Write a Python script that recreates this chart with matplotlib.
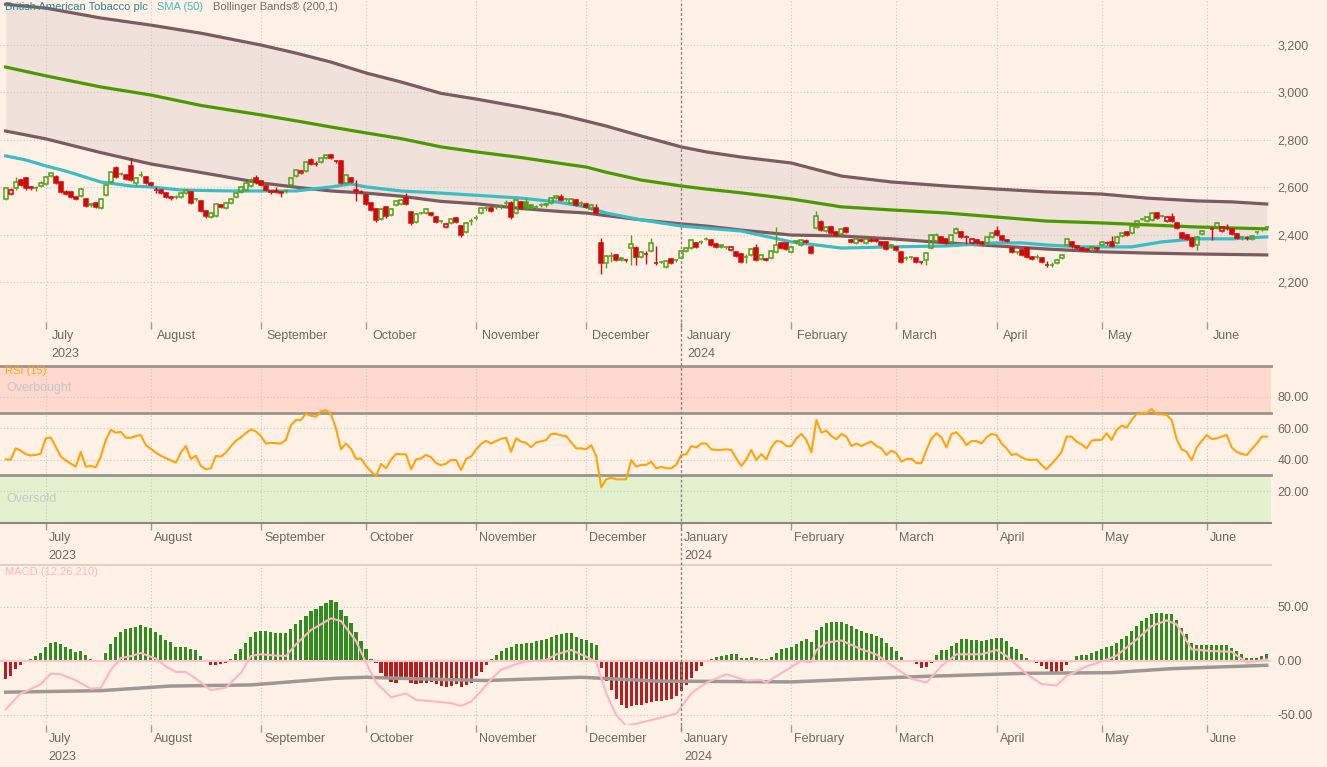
import matplotlib
matplotlib.use("Agg")
import matplotlib.pyplot as plt
import matplotlib.transforms as mtransforms
from matplotlib.lines import Line2D
import numpy as np
import pandas as pd

plt.rcParams['font.family'] = ['Liberation Sans', 'DejaVu Sans']

# trading calendar (London), one candle per session
uk_holidays = ['2023-08-28', '2023-12-25', '2023-12-26', '2024-01-01',
               '2024-03-29', '2024-04-01', '2024-05-06', '2024-05-27']
dates = pd.bdate_range('2023-06-21', '2024-06-19')
dates = dates[~dates.isin(pd.to_datetime(uk_holidays))]

# daily prices (pence)
opens = [2550, 2571, 2595, 2630, 2639, 2600, 2595, 2605, 2614, 2647,
         2643, 2622, 2580, 2580, 2558, 2563, 2550, 2523, 2533, 2512,
         2567, 2622, 2681, 2655, 2652, 2690, 2618, 2650, 2643, 2618,
         2590, 2588, 2575, 2558, 2560, 2559, 2575, 2580, 2549, 2542,
         2500, 2474, 2478, 2525, 2512, 2533, 2559, 2580, 2588, 2605,
         2640, 2625, 2605, 2579, 2582, 2578, 2582, 2609, 2647, 2660,
         2668, 2715, 2699, 2706, 2723, 2736, 2711, 2710, 2618, 2639,
         2586, 2579, 2567, 2533, 2508, 2466, 2517, 2483, 2525, 2529,
         2554, 2495, 2453, 2490, 2491, 2491, 2474, 2458, 2432, 2449,
         2470, 2436, 2411, 2456, 2469, 2491, 2511, 2512, 2516, 2519,
         2532, 2533, 2491, 2538, 2538, 2525, 2516, 2524, 2524, 2533,
         2554, 2559, 2551, 2533, 2546, 2534, 2529, 2508, 2512, 2365,
         2280, 2309, 2314, 2301, 2294, 2343, 2343, 2305, 2319, 2331,
         2281, 2283, 2263, 2297, 2291, 2301, 2331, 2343, 2365, 2368,
         2380, 2377, 2360, 2356, 2347, 2335, 2327, 2318, 2304, 2314,
         2343, 2297, 2297, 2301, 2327, 2365, 2365, 2327, 2368, 2356,
         2371, 2348, 2428, 2453, 2415, 2432, 2411, 2403, 2428, 2377,
         2365, 2377, 2365, 2376, 2378, 2369, 2369, 2352, 2348, 2327,
         2300, 2306, 2301, 2285, 2293, 2343, 2373, 2390, 2382, 2369,
         2407, 2411, 2391, 2365, 2377, 2369, 2365, 2390, 2415, 2394,
         2377, 2343, 2326, 2335, 2343, 2305, 2304, 2301, 2273, 2271,
         2280, 2301, 2356, 2369, 2352, 2345, 2340, 2343, 2340, 2356,
         2364, 2369, 2365, 2394, 2411, 2407, 2432, 2465, 2457, 2462,
         2491, 2477, 2457, 2474, 2449, 2407, 2398, 2386, 2356, 2403,
         2431, 2425, 2428, 2415, 2427, 2424, 2403, 2391, 2385, 2382, 2409, 2422, 2430]
closes = [2597, 2588, 2623, 2609, 2597, 2595, 2598, 2618, 2643, 2660,
          2618, 2580, 2571, 2559, 2552, 2592, 2521, 2527, 2517, 2550,
          2610, 2664, 2643, 2657, 2635, 2630, 2639, 2653, 2618, 2610,
          2587, 2576, 2559, 2553, 2558, 2575, 2588, 2533, 2551, 2500,
          2478, 2491, 2529, 2517, 2533, 2550, 2575, 2601, 2618, 2632,
          2620, 2609, 2588, 2582, 2579, 2575, 2585, 2639, 2673, 2668,
          2706, 2698, 2697, 2723, 2736, 2723, 2709, 2618, 2652, 2622,
          2582, 2581, 2529, 2504, 2462, 2508, 2478, 2508, 2542, 2546,
          2529, 2449, 2487, 2492, 2508, 2483, 2453, 2456, 2445, 2466,
          2453, 2398, 2449, 2458, 2471, 2512, 2513, 2500, 2518, 2521,
          2534, 2474, 2546, 2512, 2512, 2512, 2518, 2526, 2527, 2554,
          2563, 2546, 2549, 2550, 2525, 2532, 2517, 2525, 2491, 2280,
          2310, 2311, 2293, 2293, 2292, 2360, 2305, 2327, 2317, 2365,
          2279, 2285, 2289, 2280, 2294, 2331, 2343, 2377, 2348, 2370,
          2383, 2356, 2348, 2348, 2349, 2348, 2310, 2284, 2306, 2339,
          2293, 2314, 2293, 2331, 2356, 2343, 2339, 2348, 2371, 2377,
          2369, 2322, 2478, 2420, 2432, 2407, 2400, 2424, 2411, 2368,
          2382, 2373, 2382, 2374, 2373, 2356, 2340, 2354, 2335, 2284,
          2302, 2304, 2286, 2283, 2322, 2398, 2398, 2369, 2365, 2398,
          2424, 2390, 2389, 2382, 2365, 2360, 2390, 2407, 2398, 2377,
          2373, 2327, 2328, 2314, 2305, 2297, 2306, 2284, 2271, 2273,
          2293, 2314, 2380, 2350, 2342, 2336, 2335, 2346, 2342, 2369,
          2366, 2352, 2390, 2407, 2398, 2436, 2457, 2467, 2474, 2491,
          2470, 2479, 2474, 2457, 2428, 2386, 2382, 2352, 2390, 2415,
          2433, 2423, 2449, 2432, 2429, 2403, 2386, 2389, 2387, 2394, 2411, 2424, 2432]
highs = [2602, 2595, 2644, 2636, 2642, 2606, 2603, 2624, 2648, 2665,
         2650, 2628, 2586, 2584, 2563, 2597, 2555, 2531, 2538, 2555,
         2615, 2668, 2688, 2662, 2657, 2723, 2645, 2668, 2648, 2622,
         2600, 2592, 2580, 2562, 2565, 2580, 2593, 2585, 2556, 2546,
         2504, 2495, 2534, 2530, 2537, 2555, 2580, 2606, 2622, 2637,
         2650, 2630, 2610, 2590, 2600, 2583, 2590, 2644, 2678, 2672,
         2711, 2722, 2712, 2727, 2741, 2740, 2716, 2714, 2657, 2644,
         2630, 2586, 2572, 2538, 2512, 2512, 2522, 2512, 2546, 2550,
         2575, 2500, 2492, 2497, 2513, 2496, 2478, 2462, 2450, 2470,
         2475, 2440, 2454, 2470, 2482, 2517, 2520, 2516, 2525, 2530,
         2545, 2540, 2550, 2543, 2555, 2530, 2525, 2532, 2535, 2558,
         2567, 2572, 2556, 2555, 2550, 2540, 2533, 2530, 2530, 2385,
         2315, 2325, 2318, 2305, 2298, 2400, 2350, 2332, 2330, 2385,
         2350, 2290, 2293, 2302, 2298, 2336, 2348, 2382, 2370, 2375,
         2388, 2382, 2364, 2360, 2353, 2352, 2331, 2322, 2318, 2344,
         2360, 2320, 2301, 2336, 2432, 2370, 2370, 2353, 2378, 2382,
         2380, 2352, 2500, 2460, 2437, 2437, 2416, 2429, 2432, 2382,
         2390, 2381, 2387, 2385, 2384, 2373, 2373, 2360, 2352, 2331,
         2310, 2310, 2305, 2290, 2327, 2404, 2405, 2395, 2386, 2403,
         2430, 2416, 2400, 2386, 2381, 2373, 2394, 2412, 2435, 2398,
         2381, 2347, 2332, 2340, 2348, 2310, 2320, 2305, 2290, 2285,
         2297, 2318, 2384, 2373, 2356, 2349, 2344, 2352, 2348, 2374,
         2372, 2392, 2394, 2411, 2415, 2440, 2461, 2472, 2478, 2495,
         2496, 2483, 2478, 2490, 2453, 2412, 2402, 2390, 2395, 2420,
         2440, 2430, 2453, 2437, 2445, 2428, 2407, 2396, 2392, 2398, 2416, 2430, 2437]
lows = [2545, 2566, 2590, 2603, 2590, 2588, 2583, 2600, 2610, 2643,
        2612, 2574, 2566, 2555, 2548, 2558, 2515, 2518, 2512, 2508,
        2562, 2617, 2638, 2650, 2630, 2624, 2610, 2645, 2612, 2604,
        2575, 2570, 2555, 2547, 2550, 2555, 2570, 2528, 2540, 2495,
        2472, 2470, 2474, 2512, 2507, 2528, 2554, 2575, 2583, 2600,
        2615, 2603, 2583, 2572, 2574, 2560, 2575, 2604, 2642, 2655,
        2663, 2693, 2690, 2702, 2718, 2718, 2704, 2612, 2613, 2617,
        2540, 2574, 2524, 2498, 2455, 2461, 2472, 2478, 2520, 2524,
        2524, 2440, 2448, 2485, 2486, 2478, 2448, 2450, 2427, 2444,
        2448, 2390, 2405, 2440, 2460, 2486, 2500, 2494, 2508, 2510,
        2520, 2465, 2486, 2506, 2507, 2505, 2508, 2515, 2518, 2528,
        2549, 2541, 2540, 2528, 2520, 2520, 2512, 2503, 2485, 2234,
        2260, 2285, 2288, 2288, 2286, 2270, 2270, 2300, 2275, 2326,
        2270, 2278, 2258, 2275, 2286, 2296, 2326, 2338, 2343, 2362,
        2375, 2351, 2343, 2343, 2340, 2330, 2305, 2279, 2282, 2309,
        2288, 2292, 2288, 2296, 2322, 2338, 2334, 2322, 2360, 2350,
        2363, 2317, 2423, 2414, 2409, 2402, 2395, 2398, 2405, 2363,
        2360, 2368, 2360, 2368, 2368, 2350, 2334, 2345, 2330, 2278,
        2294, 2298, 2280, 2276, 2270, 2338, 2368, 2364, 2360, 2364,
        2402, 2385, 2360, 2360, 2360, 2355, 2360, 2385, 2393, 2372,
        2368, 2322, 2320, 2309, 2300, 2292, 2298, 2278, 2262, 2262,
        2276, 2297, 2352, 2345, 2337, 2331, 2330, 2328, 2330, 2352,
        2358, 2348, 2360, 2390, 2394, 2402, 2428, 2460, 2453, 2457,
        2466, 2473, 2452, 2452, 2424, 2382, 2378, 2346, 2336, 2398,
        2426, 2375, 2424, 2410, 2420, 2398, 2380, 2378, 2378, 2377, 2404, 2417, 2426]

# Bollinger Bands (200,1), read at regular sessions
bb_idx = [0, 8, 19, 29, 39, 51, 58, 65, 72, 79, 87, 94, 103, 111, 116, 120, 127, 135,
          140, 147, 157, 167, 177, 188, 198, 208, 219, 228, 238, 245, 252]
bb_upper = [3372, 3356, 3314, 3284, 3250, 3200, 3166, 3128, 3082, 3044, 2996, 2972,
            2938, 2905, 2879, 2858, 2816, 2770, 2749, 2727, 2702, 2647, 2622, 2605,
            2592, 2580, 2571, 2554, 2542, 2538, 2529]
bb_mid = [3107, 3070, 3023, 2989, 2945, 2905, 2880, 2854, 2829, 2805, 2770, 2749,
          2725, 2700, 2685, 2663, 2630, 2605, 2592, 2576, 2550, 2517, 2504, 2491,
          2474, 2457, 2449, 2441, 2432, 2428, 2424]
bb_lower = [2837, 2804, 2746, 2698, 2662, 2618, 2600, 2584, 2575, 2562, 2540, 2530,
            2510, 2497, 2491, 2480, 2462, 2445, 2436, 2419, 2398, 2394, 2382, 2365,
            2352, 2339, 2327, 2322, 2318, 2316, 2314]

# SMA (50)
sma_idx = [0, 4, 8, 12, 19, 25, 29, 35, 45, 52, 58, 65, 69, 72, 79, 87, 103, 110, 116,
           120, 127, 135, 147, 157, 167, 177, 188, 198, 203, 208, 215, 225, 231, 238, 245, 252]
sma_val = [2732, 2715, 2690, 2668, 2622, 2605, 2601, 2588, 2584, 2584, 2584, 2601, 2614,
           2601, 2584, 2575, 2554, 2538, 2517, 2491, 2462, 2436, 2415, 2369, 2343, 2348,
           2352, 2365, 2365, 2356, 2348, 2348, 2369, 2382, 2382, 2390]

# RSI (15), daily
rsi = [40.2, 40, 47.2, 45.8, 43.5, 42.7, 43, 44, 53.5, 54.2,
       48.3, 42, 39.5, 37.5, 35.6, 45, 35.6, 36, 35.2, 42,
       52.6, 59, 57.2, 57.8, 54, 54, 55, 55.7, 49.3, 47,
       44.5, 42.5, 41, 39.5, 38.1, 44.5, 48.7, 40.5, 42.6, 36,
       33.9, 34.5, 42.4, 42, 44.5, 48.5, 52.1, 54.2, 57, 59.3,
       58, 55, 50.3, 50.7, 50.5, 50.3, 52.6, 62, 65.3, 65.3,
       69.3, 68, 67.4, 70.8, 71.5, 69, 60, 46.6, 50.3, 47,
       40.5, 40.8, 36, 32.5, 29.6, 37.3, 34.5, 40, 43.6, 43.5,
       43.4, 33.9, 40.2, 40.8, 43, 41.5, 37.8, 36.5, 37.5, 39.8,
       39.8, 33.4, 40.5, 42, 46.5, 50, 52, 50.3, 51.9, 53.3,
       54, 45, 53.6, 51.5, 50.7, 48, 51, 51.7, 52.5, 56.4,
       56.4, 55.5, 55, 51, 47.2, 47.2, 46.6, 49.3, 42.4, 22.4,
       27.5, 28.5, 27.5, 27.5, 27.5, 39.8, 35.6, 36.7, 36.7, 38.7,
       34.5, 35.5, 34.5, 34.5, 36.7, 43, 43.4, 48.7, 47.8, 50.3,
       50.3, 46.6, 46.2, 46.2, 46.6, 46.2, 40.8, 36, 40.2, 46.2,
       39.8, 43.6, 40.2, 47.8, 51.9, 51.5, 48.7, 48.7, 53.6, 56.4,
       52.6, 44.7, 65.3, 57.2, 58.5, 55, 53, 56.4, 54.7, 48.7,
       50.3, 48.7, 50.3, 51.5, 48.7, 47.2, 43, 45.8, 44.1, 38.8,
       40.5, 40.5, 37.8, 37.8, 46.2, 53.6, 56.8, 54.2, 47.8, 56.4,
       57.5, 54, 49.3, 51.9, 51.9, 50.3, 54.2, 56.4, 55.7, 50.3,
       47.2, 43, 43.6, 41.5, 40.2, 39.8, 40.2, 36.7, 33.9, 37.3,
       40.8, 45, 54.7, 54.7, 51.5, 49.8, 47.2, 52.1, 52.6, 52.6,
       56.8, 52.6, 59, 61.7, 60.4, 65.3, 69.1, 69.5, 69.5, 72.3,
       68.9, 68.9, 68.5, 65.3, 53, 46.6, 45, 39.8, 47.8, 51.9,
       55.7, 53.2, 53.6, 54.7, 55.7, 47.8, 45, 43.6, 43, 46.6, 50.3, 54.7, 54.7]

# MACD (12,26,210) histogram, daily
macd_hist = [-17, -13.9, -7.7, -3.7, 0.8, 2, 4.5, 7, 13.3, 16.9,
             17.9, 15.4, 13.3, 10.8, 8.6, 9.2, 5.2, 2.2, 0.9, 1,
             7, 15.4, 22.5, 26.8, 29.3, 30.9, 31.8, 33.4, 31.5, 30.2,
             26.8, 23.8, 19.4, 17.6, 13.3, 13.3, 13.3, 10.8, 10.2, 4.6,
             -0.9, -4, -4, -3, -1.5, 1.5, 6.2, 10.8, 16.9, 22.2,
             26.8, 27.8, 27.8, 26.8, 26.2, 25.6, 25.6, 29.9, 34.5, 37.6,
             41.6, 46.2, 47.8, 50.8, 53.3, 56.1, 54.9, 46.9, 41.6, 35.5,
             26.8, 18.5, 10.8, 1.5, -2.2, -10.8, -15.4, -19.4, -20, -16.3,
             -15.4, -20.7, -21.6, -20.7, -20, -19.4, -21.6, -23.1, -23.8, -23.1,
             -21.6, -24.1, -22.5, -20, -13.9, -10.2, -4, 1.5, 5.2, 9.2,
             12.3, 13.3, 15.4, 16.1, 16.9, 16.4, 18.5, 19.4, 20, 22.2,
             24, 24.7, 26.2, 26.2, 22.2, 20.7, 19.1, 16.9, 14.5, -6.2,
             -18.5, -26.8, -35.5, -41, -44, -41.6, -41, -40.7, -39.2, -37.9,
             -37, -37, -36, -35.5, -32.4, -27.8, -22.5, -15.4, -9.3, -4.6,
             0, 2.2, 4, 4.6, 5.2, 6.8, 6.2, 3.1, 3.1, 3.7,
             2.5, 2.2, 1.5, 3.7, 7.1, 10.8, 12.3, 13.3, 15.4, 18.5,
             20, 17.6, 28.4, 31.8, 35.5, 36.1, 36.1, 36.1, 34, 32.4,
             29.3, 27.8, 26.2, 24.7, 23.1, 21, 16.9, 13.3, 9.2, 4,
             0.6, -0.9, -3.1, -6.2, -5.2, -2.2, 5.2, 10.2, 10.2, 13.9,
             16.9, 20, 20, 19.1, 19.1, 18.5, 19.1, 20.7, 21.6, 21.6,
             18.5, 13.3, 10.8, 6.2, 3.1, 0.9, -1.5, -4.6, -7.7, -10.8,
             -10.8, -9.3, -4, 0.9, 4.6, 5.2, 5.2, 7.7, 9.2, 11.4,
             13.3, 13.9, 16.9, 20.7, 23.1, 27.8, 32.4, 37, 40.1, 43.2,
             44.8, 44.8, 43.8, 43.2, 37.9, 30.9, 24.7, 16.9, 14.5, 14.5,
             14.5, 14.5, 14.5, 14.5, 15.1, 12.3, 9.2, 6.2, 3.1, 2.5, 2.5, 4.6, 6.2]

# MACD line and signal line
macd_idx = [0, 3, 5, 7, 9, 11, 14, 17, 19, 21, 23, 25, 27, 30, 32, 34, 36, 38, 41, 44,
            47, 49, 51, 54, 56, 58, 61, 63, 65, 67, 70, 72, 74, 77, 80, 82, 86, 89, 91,
            93, 95, 97, 99, 102, 104, 108, 110, 113, 116, 118, 120, 122, 124, 127, 130,
            134, 137, 140, 144, 146, 148, 151, 152, 156, 159, 161, 162, 164, 167, 171,
            174, 177, 181, 184, 187, 190, 195, 198, 200, 204, 207, 210, 212, 216, 219,
            222, 226, 229, 232, 234, 237, 241, 245, 248, 252]
macd_val = [-44.7, -30, -26, -21.6, -11.7, -12.3, -17.9, -25.6, -25, -8.3, 2.8, 4.5, 7.4,
            2.2, -5, -10.2, -10.2, -16.3, -27, -24.7, -11, 4.6, 6.2, 5, 4.6, 15.4, 28.7,
            34, 39.5, 37, 18.5, -1.5, -20, -33.6, -30, -36.1, -37.6, -39.2, -41.6, -37.6,
            -28, -17, -8, -3, -0.6, 0.9, 6, 10.2, 4, -1, -30, -50, -60.2, -57, -53.5,
            -48.8, -30, -20.1, -12.3, -15.1, -18.1, -17.6, -20, -8.3, 0, -1.2, 10, 17, 19,
            10.8, 6, -4, -16.4, -20, -4.6, 6.2, 6.2, 10.2, 4.6, -12, -21.3, -22.8, -14,
            -5, -0.6, 5, 20, 32.4, 37.6, 33.9, 10.8, 9.2, 8.5, -1.5, 1.5]
signal_idx = [0, 19, 33, 49, 66, 72, 83, 96, 115, 130, 157, 182, 204, 221, 233, 252]
signal_val = [-28.9, -27.5, -23.2, -22.2, -16, -15.1, -16.6, -18.1, -15.1, -18.6,
              -19.4, -14.5, -11.4, -10.8, -7.1, -4]

price_ticks = [2200, 2400, 2600, 2800, 3000, 3200]
rsi_ticks = [20, 40, 60, 80]
macd_ticks = [-50, 0, 50]

BG = '#fff1e5'
BAND_FILL = '#f0e1da'
BAND = '#7b5a60'
MID = '#4b9900'
CYAN = '#3bbdc4'
UP = '#54a01a'
DOWN = '#d00a0a'
GRID = '#cfc6be'
TICK = '#6e6863'
SEP = '#9a9490'

W, H = 1327, 767
fig = plt.figure(figsize=(W / 100, H / 100), dpi=100, facecolor=BG)


def axes_px(top, bottom, right=1271):
    return fig.add_axes([0, 1 - bottom / H, right / W, (bottom - top) / H])


ax_p = axes_px(0, 322)
ax_r = axes_px(365.5, 522.5)
ax_m = axes_px(565, 725)

x = np.arange(len(dates))
month_pos = [i for i in range(1, len(dates)) if dates[i].month != dates[i - 1].month]
jan_pos = [i for i in month_pos if dates[i].month == 1][0]

for ax in (ax_p, ax_r, ax_m):
    ax.set_facecolor(BG)
    for s in ax.spines.values():
        s.set_visible(False)
    ax.set_xlim(-1.14, 252.85)
    ax.set_xticks(month_pos)
    ax.set_xticklabels([])
    ax.tick_params(axis='x', direction='out', length=5, width=1, color='#a09a95')
    ax.yaxis.tick_right()
    ax.tick_params(axis='y', length=0, pad=4.5, labelsize=9, labelcolor=TICK)
    for m in month_pos:
        if m != jan_pos:
            ax.axvline(m, color=GRID, lw=0.8, ls=(0, (1, 2)), zorder=1)

# ---- price panel
ax_p.set_ylim(2031, 3390)
ax_p.fill_between(bb_idx, bb_lower, bb_upper, color=BAND_FILL, lw=0, zorder=0.5)
for v in price_ticks:
    ax_p.axhline(v, color=GRID, lw=0.8, ls=(0, (1, 2)), zorder=1)
ax_p.plot(bb_idx, bb_upper, color=BAND, lw=2.3, zorder=3, solid_joinstyle='round')
ax_p.plot(bb_idx, bb_lower, color=BAND, lw=2.3, zorder=3, solid_joinstyle='round')
ax_p.plot(bb_idx, bb_mid, color=MID, lw=2.3, zorder=3, solid_joinstyle='round')
ax_p.plot(sma_idx, sma_val, color=CYAN, lw=2.3, zorder=3.5, solid_joinstyle='round')

o = np.array(opens, float)
c = np.array(closes, float)
hi = np.array(highs, float)
lo = np.array(lows, float)
prev = np.r_[c[0], c[:-1]]
col = np.where(c >= prev, UP, DOWN)
top = np.maximum(o, c)
bot = np.minimum(o, c)
ax_p.vlines(x, top, hi, colors=col, lw=1, zorder=4)
ax_p.vlines(x, lo, bot, colors=col, lw=1, zorder=4)
filled = c < o
face = [cc if f else 'none' for cc, f in zip(col, filled)]
ax_p.bar(x, np.maximum(top - bot, 0.5), bottom=bot, width=0.8, color=face,
         edgecolor=col, lw=1.1, zorder=4.5)

ax_p.set_yticks(price_ticks)
ax_p.set_yticklabels([f'{v:,}' for v in price_ticks])

# ---- RSI panel
ax_r.set_ylim(0, 100)
ax_r.axhspan(70, 100, color='#ffd9cd', lw=0, zorder=0.5)
ax_r.axhspan(0, 30, color='#e3f1cf', lw=0, zorder=0.5)
for v in rsi_ticks:
    ax_r.axhline(v, color=GRID, lw=0.8, ls=(0, (1, 2)), zorder=1)
for v in (70, 30, 100):
    ax_r.axhline(v, color=SEP, lw=2, zorder=2, clip_on=False)
ax_r.axhline(0, color='#8e8884', lw=1.5, zorder=2, clip_on=False)
ax_r.plot(x, rsi, color='#ffa40a', lw=1.5, zorder=3)
ax_r.set_yticks(rsi_ticks)
ax_r.set_yticklabels([f'{v:.2f}' for v in rsi_ticks])

# ---- MACD panel
ax_m.set_ylim(-59.3, 88.9)
for v in (-50, 50):
    ax_m.axhline(v, color=GRID, lw=0.8, ls=(0, (1, 2)), zorder=1)
ax_m.axhline(88.9, color='#dcd2ca', lw=1.5, zorder=1, clip_on=False)
hist = np.array(macd_hist)
ax_m.bar(x, hist, width=0.62, color=np.where(hist >= 0, '#2f8c1f', '#b51f1f'), zorder=2)
ax_m.axhline(0, color='#ffc4cd', lw=1.5, zorder=2.5)
ax_m.plot(signal_idx, signal_val, color='#9c9896', lw=2.5, zorder=2.8)
ax_m.plot(macd_idx, macd_val, color='#ffb6c4', lw=1.5, zorder=3)
ax_m.set_yticks(macd_ticks)
ax_m.set_yticklabels([f'{v:.2f}' for v in macd_ticks])

# month / year labels under each panel
for ax, dx, dy in ((ax_p, 4.3, -6), (ax_r, 2.2, -7), (ax_m, 2.2, -6)):
    for k, m in enumerate(month_pos):
        ax.annotate(dates[m].strftime('%B'), xy=(m, 0), xycoords=('data', 'axes fraction'),
                    xytext=(dx, dy), textcoords='offset points', ha='left', va='top',
                    fontsize=9, color=TICK, annotation_clip=False)
        if k == 0 or dates[m].month == 1:
            ax.annotate(dates[m].strftime('%Y'), xy=(m, 0), xycoords=('data', 'axes fraction'),
                        xytext=(dx, dy - 12.5), textcoords='offset points', ha='left', va='top',
                        fontsize=9, color=TICK, annotation_clip=False)

# year boundary line through all panels
trans = mtransforms.blended_transform_factory(ax_p.transData, fig.transFigure)
fig.add_artist(Line2D([jan_pos, jan_pos], [1 - 730 / H, 1], transform=trans,
                      color='#8a8480', lw=1, ls=(0, (2, 1.5)), zorder=5))

# panel titles
fig.text(5 / W, 1 - 7.5 / H, 'British American Tobacco plc', color='#2d8796', fontsize=8, va='center')
fig.text(157 / W, 1 - 7.5 / H, 'SMA (50)', color='#3cbfc6', fontsize=8, va='center')
fig.text(213 / W, 1 - 7.5 / H, 'Bollinger Bands\u00ae (200,1)', color='#7a6b6b', fontsize=8, va='center')
fig.text(5 / W, 1 - 371 / H, 'RSI (15)', color='#ffa40a', fontsize=8, va='center')
fig.text(6 / W, 1 - 388 / H, 'Overbought', color='#c3c8cb', fontsize=9, va='center')
fig.text(6 / W, 1 - 499 / H, 'Oversold', color='#c3c8cb', fontsize=9, va='center')
fig.text(5 / W, 1 - 572 / H, 'MACD (12,26,210)', color='#ffb6c4', fontsize=8, va='center')

fig.savefig('out.png', dpi=100, facecolor=BG)
